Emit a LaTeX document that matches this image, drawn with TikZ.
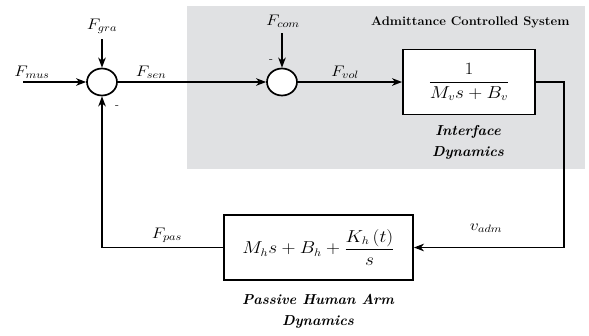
\documentclass[tikz,border=0pt]{standalone}
\usepackage{graphicx}
\usepackage{fontspec}
\usetikzlibrary{arrows.meta,shapes.geometric}
\definecolor{sysgray}{RGB}{224,225,227}
\newcommand{\xst}[1]{\scalebox{1.12}[1]{#1}}
\newcommand{\lbst}[1]{\scalebox{1.22}[1.06]{#1}}
\begin{document}
\begin{tikzpicture}[x=1pt,y=-1pt,
  line/.style={line width=1.8pt, line join=miter},
  arr/.style={line, -{Stealth[length=10pt,width=7.5pt,inset=3pt]}},
  sumnode/.style={ellipse, draw, line width=1.7pt, fill=white, minimum width=30pt, minimum height=27pt, inner sep=0pt},
  blockbox/.style={draw, line width=1.8pt, fill=white, inner sep=0pt},
  sig/.style={font=\fontsize{14}{16}\selectfont},
  caption/.style={font=\fontsize{14.4}{21}\selectfont\bfseries\itshape, align=center},
  minus/.style={font=\fontsize{12}{14}\selectfont}]
\useasboundingbox (0,0) rectangle (589,335);
\fill[sysgray] (187,6) rectangle (585,169);
\node[font=\fontsize{12.5}{15}\selectfont\bfseries, anchor=east] (systitle) at (573,22) {\scalebox{1.04}[1]{Admittance Controlled System}};

\node[sumnode] (s1) at (102,82) {};
\node[sumnode] (s2) at (282,82) {};
\node[blockbox, minimum width=132pt, minimum height=65pt] (b1) at (469,82)
  {\fontsize{16}{18}\selectfont\xst{$\displaystyle\frac{1}{M_v s + B_v}$}};
\node[blockbox, minimum width=189pt, minimum height=65pt] (b2) at (318.5,247.5)
  {\fontsize{16}{18}\selectfont\xst{$\displaystyle M_h s + B_h + \frac{K_h\,(t)}{s}$}};

\coordinate (in) at (23,82);
\coordinate (gra) at (102,39);
\coordinate (com) at (282,33);
\coordinate (c1) at (564,82);
\coordinate (c2) at (564,247.5);
\coordinate (c3) at (102,247.5);

\draw[arr] (in) -- (s1.west);
\draw[arr] (gra) -- (s1.north);
\draw[arr] (s1.east) -- (s2.west);
\draw[arr] (com) -- (s2.north);
\draw[arr] (s2.east) -- (b1.west);
\draw[arr] (b1.east) -- (c1) -- (c2) -- (b2.east);
\draw[arr] (b2.west) -- (c3) -- (s1.south);

\node[sig] (lmus) at (32,72) {\lbst{$F_{mus}$}};
\node[sig] (lgra) at (102,26) {\lbst{$F_{gra}$}};
\node[sig] (lsen) at (151,72) {\lbst{$F_{sen}$}};
\node[sig] (lcom) at (283,21) {\lbst{$F_{com}$}};
\node[sig] (lvol) at (345,72) {\lbst{$F_{vol}$}};
\node[sig] (lpas) at (167,235) {\lbst{$F_{pas}$}};
\node[sig] (ladm) at (486,228) {\lbst{$v_{adm}$}};
\node[minus] (m1) at (117,107) {-};
\node[minus] (m2) at (271,61) {-};

\node[caption] (cap1) at (468,142) {Interface\\Dynamics};
\node[caption] (cap2) at (318,311) {Passive Human Arm\\Dynamics};
\end{tikzpicture}
\end{document}
